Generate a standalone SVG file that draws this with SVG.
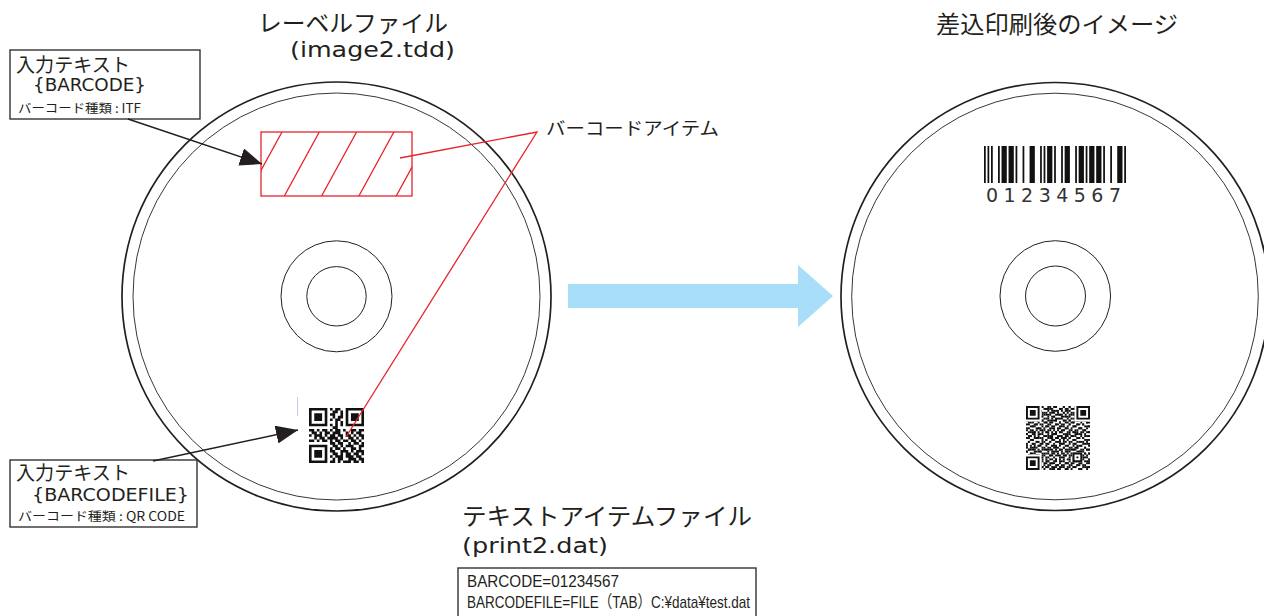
<svg xmlns="http://www.w3.org/2000/svg" xmlns:xlink="http://www.w3.org/1999/xlink" width="1264" height="616" viewBox="0 0 1264 616">
<style>
.jp{font-family:"Noto Sans CJK JP","Liberation Sans",sans-serif;fill:#231f20}
.lt{font-family:"Liberation Sans","Noto Sans CJK JP",sans-serif;fill:#231f20}
.dv{font-family:"DejaVu Sans","Noto Sans CJK JP",sans-serif;fill:#231f20}
.dig{font-family:"DejaVu Sans",sans-serif;fill:#333}
.outer{fill:none;stroke:#231f20;stroke-width:1.7}
.inner{fill:none;stroke:#231f20;stroke-width:0.9}
.hub{fill:none;stroke:#231f20;stroke-width:1}
.box{fill:#fff;stroke:#333;stroke-width:1.4}
.red{fill:none;stroke:#e8232b;stroke-width:1.3}
.conn{fill:none;stroke:#231f20;stroke-width:1.5}
.qr{fill:#111}
.qrd{fill:none;stroke:#111;stroke-width:1}
</style>
<defs>
<marker id="ah" markerUnits="userSpaceOnUse" markerWidth="24" markerHeight="18" refX="22" refY="9" orient="auto">
<path d="M0,0 L22,9 L0,18 z" fill="#231f20"/>
</marker>
<path id="finder" fill-rule="evenodd" d="M0 0h7v7h-7z M1 1v5h5v-5z M2 2h3v3h-3z"/>
<clipPath id="rc"><rect x="261" y="132" width="151" height="64"/></clipPath>
<pattern id="pa" patternUnits="userSpaceOnUse" width="11" height="7">
<path fill="none" stroke="#111" stroke-width="1" d="M0 .5h1M3 .5h2M8 .5h1M1 1.5h2M6 1.5h1M9 1.5h2M0 2.5h1M4 2.5h2M7 2.5h1M2 3.5h2M8 3.5h1M10 3.5h1M1 4.5h1M5 4.5h2M9 4.5h1M0 5.5h1M3 5.5h1M7 5.5h2M2 6.5h1M4 6.5h1M6 6.5h1M10 6.5h1"/>
</pattern>
<pattern id="pb" patternUnits="userSpaceOnUse" width="7" height="9">
<path fill="none" stroke="#111" stroke-width="1" d="M1 .5h1M5 .5h1M3 1.5h2M0 2.5h1M6 2.5h1M2 3.5h1M5 3.5h1M1 4.5h1M3 4.5h2M0 5.5h1M6 5.5h1M2 6.5h1M4 6.5h1M1 7.5h1M5 7.5h2M3 8.5h1"/>
</pattern>
</defs>
<rect width="1264" height="616" fill="#fff"/>

<g id="title-label-file">
<text class="jp" x="258" y="32" font-size="23.5" textLength="190" lengthAdjust="spacingAndGlyphs">レーベルファイル</text>
<text class="dv" x="290" y="57" font-size="21" textLength="165" lengthAdjust="spacingAndGlyphs">(image2.tdd)</text>
</g>
<g id="title-result">
<text class="jp" x="936" y="33" font-size="23.5" textLength="242" lengthAdjust="spacingAndGlyphs">差込印刷後のイメージ</text>
</g>

<g id="disc-left">
<circle class="outer" cx="336.5" cy="296.5" r="214.5"/>
<circle class="inner" cx="336.5" cy="296.5" r="203.5"/>
<circle class="hub" cx="336.5" cy="296.3" r="55.5"/>
<circle class="hub" cx="336.5" cy="296.3" r="29.7"/>
</g>

<g id="barcode-item">
<g clip-path="url(#rc)" class="red">
<path d="M247 196L282 132M284.3 196L319.3 132M321.6 196L356.6 132M358.9 196L393.9 132M396.2 196L431.2 132"/>
</g>
<rect class="red" x="261" y="132" width="151" height="64" stroke-width="1.5"/>
</g>

<g id="qr-left" transform="translate(309,408) scale(2.62)">
<use xlink:href="#finder" href="#finder" class="qr"/>
<use xlink:href="#finder" href="#finder" class="qr" x="14"/>
<use xlink:href="#finder" href="#finder" class="qr" y="14"/>
<path class="qrd" d="M8 .5h1M10 .5h2M9 1.5h2M12 1.5h1M8 2.5h2M12 2.5h1M9 3.5h1M11 3.5h2M8 4.5h1M10 4.5h2M10 5.5h1M12 5.5h1M8 6.5h1M10 6.5h1M12 6.5h1M9 7.5h2M0 8.5h2M3 8.5h1M5 8.5h2M8 8.5h1M10 8.5h2M13 8.5h1M16 8.5h2M19 8.5h2M1 9.5h2M4 9.5h1M6 9.5h2M9 9.5h3M14 9.5h1M16 9.5h1M18 9.5h2M0 10.5h1M2 10.5h3M6 10.5h1M8 10.5h2M11 10.5h2M14 10.5h2M17 10.5h1M19 10.5h2M2 11.5h1M4 11.5h2M7 11.5h4M12 11.5h1M15 11.5h2M18 11.5h1M20 11.5h1M0 12.5h2M3 12.5h1M5 12.5h2M8 12.5h1M10 12.5h2M13 12.5h2M16 12.5h2M19 12.5h1M8 13.5h2M11 13.5h2M15 13.5h1M17 13.5h2M20 13.5h1M9 14.5h2M12 14.5h1M14 14.5h3M19 14.5h2M8 15.5h1M10 15.5h2M13 15.5h1M16 15.5h2M19 15.5h1M8 16.5h2M12 16.5h3M16 16.5h1M18 16.5h3M9 17.5h2M12 17.5h1M14 17.5h2M17 17.5h2M20 17.5h1M8 18.5h1M10 18.5h3M14 18.5h3M18 18.5h2M9 19.5h1M11 19.5h2M15 19.5h3M19 19.5h2M8 20.5h2M11 20.5h1M13 20.5h3M17 20.5h2M20 20.5h1"/>
</g>
<line x1="297.5" y1="397" x2="297.5" y2="416" stroke="#c3cfe2" stroke-width="1"/>

<g id="box-itf">
<rect class="box" x="10" y="50" width="190" height="69"/>
<text class="jp" x="16" y="72" font-size="19" textLength="114" lengthAdjust="spacingAndGlyphs">入力テキスト</text>
<text class="dv" x="33" y="91" font-size="17.5" textLength="113" lengthAdjust="spacingAndGlyphs">{BARCODE}</text>
<text class="jp" x="18" y="113" font-size="12.5" textLength="123" lengthAdjust="spacingAndGlyphs">バーコード種類 : ITF</text>
</g>

<g id="box-qr">
<rect class="box" x="10" y="460" width="187" height="67"/>
<text class="jp" x="16" y="480" font-size="19" textLength="114" lengthAdjust="spacingAndGlyphs">入力テキスト</text>
<text class="dv" x="32" y="501" font-size="17.5" textLength="157" lengthAdjust="spacingAndGlyphs">{BARCODEFILE}</text>
<text class="jp" x="18" y="521" font-size="12.5" textLength="167" lengthAdjust="spacingAndGlyphs">バーコード種類 : QR CODE</text>
</g>

<g id="label-barcode-item">
<text class="jp" x="546" y="135" font-size="18" textLength="173" lengthAdjust="spacingAndGlyphs">バーコードアイテム</text>
</g>

<g id="arrow-merge">
<polygon points="568,284 798,284 798,265 833,296 798,327 798,308 568,308" fill="#a8def7"/>
</g>

<g id="disc-right">
<circle class="outer" cx="1055" cy="296.5" r="214"/>
<circle class="inner" cx="1055" cy="296.5" r="203.3"/>
<circle class="hub" cx="1055.3" cy="296" r="55.3"/>
<circle class="hub" cx="1055.5" cy="296" r="30"/>
</g>

<g id="barcode-printed" transform="translate(984,146) scale(1.753,1)" fill="#111">
<rect x="0" y="0" width="1" height="37"/><rect x="2" y="0" width="1" height="37"/><rect x="4" y="0" width="1" height="37"/><rect x="8" y="0" width="1" height="37"/><rect x="10" y="0" width="3" height="37"/><rect x="14" y="0" width="3" height="37"/><rect x="18" y="0" width="1" height="37"/><rect x="22" y="0" width="1" height="37"/><rect x="26" y="0" width="3" height="37"/><rect x="32" y="0" width="1" height="37"/><rect x="34" y="0" width="1" height="37"/><rect x="36" y="0" width="3" height="37"/><rect x="40" y="0" width="1" height="37"/><rect x="44" y="0" width="1" height="37"/><rect x="46" y="0" width="3" height="37"/><rect x="52" y="0" width="1" height="37"/><rect x="54" y="0" width="3" height="37"/><rect x="58" y="0" width="1" height="37"/><rect x="60" y="0" width="3" height="37"/><rect x="64" y="0" width="3" height="37"/><rect x="68" y="0" width="1" height="37"/><rect x="72" y="0" width="1" height="37"/><rect x="76" y="0" width="3" height="37"/><rect x="80" y="0" width="1" height="37"/>
</g>
<text class="dig" x="986" y="202" font-size="19" textLength="135" lengthAdjust="spacing">01234567</text>

<g id="qr-right" transform="translate(1026,406) scale(1.9394)">
<rect width="33" height="33" fill="url(#pa)"/>
<rect width="33" height="33" fill="url(#pb)"/>
<rect x="0" y="0" width="8" height="8" fill="#fff"/>
<rect x="25" y="0" width="8" height="8" fill="#fff"/>
<rect x="0" y="25" width="8" height="8" fill="#fff"/>
<rect x="24" y="24" width="5" height="5" fill="#fff"/>
<use xlink:href="#finder" href="#finder" class="qr"/>
<use xlink:href="#finder" href="#finder" class="qr" x="26"/>
<use xlink:href="#finder" href="#finder" class="qr" y="26"/>
<path class="qr" fill-rule="evenodd" d="M24 24h5v5h-5z M25 25v3h3v-3z M26 26h1v1h-1z"/>
</g>

<g id="title-text-file">
<text class="jp" x="462" y="525" font-size="24" textLength="290" lengthAdjust="spacingAndGlyphs">テキストアイテムファイル</text>
<text class="dv" x="462" y="553" font-size="21" textLength="146" lengthAdjust="spacingAndGlyphs">(print2.dat)</text>
</g>

<g id="box-data">
<rect class="box" x="458" y="568" width="298" height="60"/>
<text class="lt" x="467" y="587" font-size="17" textLength="152" lengthAdjust="spacingAndGlyphs">BARCODE=01234567</text>
<text class="lt" x="467" y="608" font-size="17" textLength="283" lengthAdjust="spacingAndGlyphs">BARCODEFILE=FILE（TAB）C:¥data¥test.dat</text>
</g>

<g id="connectors">
<line class="conn" x1="128" y1="119" x2="262" y2="164" marker-end="url(#ah)"/>
<line class="conn" x1="153" y1="461" x2="298" y2="430" marker-end="url(#ah)"/>
<polyline class="red" points="400,158 537,132 346,437"/>
</g>
</svg>
